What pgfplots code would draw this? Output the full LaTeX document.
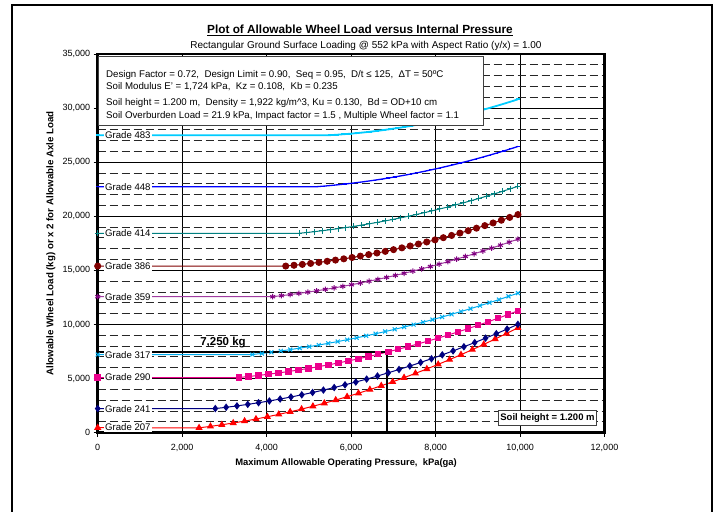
\documentclass[border=0pt]{standalone}
\usepackage{pgfplots}
\pgfplotsset{compat=1.18}
\usepackage{fontspec}
\setmainfont{Liberation Sans}
\definecolor{navyc}{RGB}{0,0,128}
\definecolor{purp}{RGB}{160,60,160}
\definecolor{purpm}{RGB}{128,0,128}
\definecolor{dred}{RGB}{128,0,0}
\definecolor{tealc}{RGB}{0,128,128}
\definecolor{lblue}{RGB}{0,204,255}
\begin{document}
\begin{tikzpicture}[x=1pt,y=1pt]
\useasboundingbox (0,0) rectangle (716,512);
\begin{axis}[
  at={(97.7pt,79.3pt)}, anchor=south west,
  width=506.8pt, height=378.7pt, scale only axis,
  xmin=0, xmax=12000, ymin=0, ymax=35000,
  xtick={0,2000,...,12000}, ytick={0,5000,...,35000},
  minor y tick num=4,
  xmajorgrids=true, ymajorgrids=true, yminorgrids=true,
  major grid style={black, line width=0.8pt},
  minor grid style={black!85, line width=1pt, dash pattern=on 8pt off 4pt},
  minor tick length=0pt,
  tick pos=left, tick align=outside, major tick length=4pt,
  tick style={black, line width=1pt},
  axis line style={line width=2.5pt},
  clip=false,
  ticklabel style={font=\fontsize{9}{10}\selectfont},
  xticklabel style={yshift=-4pt},
  scaled ticks=false,
  /pgf/number format/1000 sep={,},
  /pgf/number format/assume math mode=true,
  xlabel={Maximum Allowable Operating Pressure,\ \ kPa(ga)},
  ylabel={Allowable Wheel Load (kg) or x 2 for Allowable Axle Load},
  every axis x label/.style={at={(rel axis cs:0.49,0)}, anchor=center, yshift=-30.3pt, font=\bfseries\fontsize{9.4}{11}\selectfont},
  every axis y label/.style={at={(rel axis cs:0,0.5)}, anchor=center, xshift=-46.7pt, rotate=90, font=\bfseries\fontsize{9.7}{11}\selectfont},
]
% Grade 207
\addplot[red, line width=1pt, mark=triangle*, mark size=3.2pt] coordinates {
(0,460) (2400,450) (2670,584) (2939,733) (3209,895) (3478,1073) (3748,1265) (4018,1472) (4287,1693) (4557,1929) (4827,2179) (5096,2444) (5366,2724) (5636,3017) (5905,3326) (6175,3649) (6445,3986) (6714,4338) (6984,4705) (7254,5086) (7523,5481) (7793,5892) (8062,6316) (8332,6755) (8602,7209) (8871,7677) (9141,8160) (9411,8658) (9680,9170) (9950,9696)};
% Grade 241
\addplot[navyc, line width=1pt, mark=diamond*, mark size=3pt] coordinates {
(0,2230) (2785,2230) (3041,2347) (3297,2476) (3553,2617) (3809,2770) (4065,2935) (4320,3112) (4576,3300) (4832,3501) (5088,3714) (5344,3938) (5600,4174) (5856,4423) (6112,4683) (6368,4955) (6624,5239) (6879,5535) (7135,5843) (7391,6162) (7647,6494) (7903,6838) (8159,7193) (8415,7561) (8671,7940) (8927,8332) (9183,8735) (9438,9150) (9694,9577) (9950,10016)};
% Grade 290
\addplot[magenta, line width=1pt, mark=square*, mark size=2.7pt] coordinates {
(0,5100) (3339,5100) (3575,5192) (3811,5294) (4047,5405) (4283,5525) (4520,5656) (4756,5795) (4992,5944) (5228,6103) (5464,6271) (5700,6448) (5936,6635) (6172,6831) (6408,7037) (6644,7253) (6881,7478) (7117,7712) (7353,7956) (7589,8209) (7825,8472) (8061,8744) (8297,9026) (8533,9317) (8769,9618) (9005,9928) (9242,10248) (9478,10577) (9714,10915) (9950,11263)};
% Grade 317
\addplot[cyan, line width=1pt, mark=x, mark size=2.8pt] coordinates {
(0,7220) (3662,7220) (3887,7325) (4111,7437) (4336,7556) (4560,7682) (4785,7816) (5010,7958) (5234,8105) (5459,8261) (5683,8424) (5908,8594) (6133,8771) (6357,8955) (6582,9147) (6806,9347) (7031,9553) (7256,9767) (7480,9988) (7705,10216) (7929,10451) (8154,10694) (8379,10944) (8603,11201) (8828,11465) (9052,11737) (9277,12016) (9502,12302) (9726,12596) (9951,12896)};
% Grade 359
\addplot[purp, line width=1pt, mark=asterisk, mark size=2.8pt, mark options={purpm}] coordinates {
(0,12570) (4144,12570) (4351,12665) (4559,12766) (4766,12875) (4974,12991) (5181,13114) (5388,13244) (5596,13381) (5803,13526) (6011,13677) (6218,13835) (6425,14001) (6633,14173) (6840,14353) (7048,14539) (7255,14733) (7462,14934) (7670,15141) (7877,15356) (8085,15578) (8292,15807) (8499,16044) (8707,16287) (8914,16537) (9122,16795) (9329,17059) (9536,17331) (9744,17609) (9951,17894)};
% Grade 386
\addplot[dred, line width=1pt, mark=*, mark size=3pt] coordinates {
(0,15400) (4452,15400) (4648,15474) (4845,15555) (5041,15644) (5238,15739) (5434,15842) (5630,15951) (5827,16068) (6023,16192) (6220,16323) (6416,16461) (6612,16606) (6809,16758) (7005,16917) (7202,17084) (7398,17257) (7594,17438) (7791,17626) (7987,17821) (8184,18023) (8380,18232) (8576,18448) (8773,18671) (8969,18902) (9166,19139) (9362,19384) (9558,19636) (9755,19895) (9951,20161)};
% Grade 414
\addplot[tealc, line width=1pt, mark=+, mark size=3pt] coordinates {
(0,18430) (4767,18430) (4952,18503) (5137,18583) (5322,18669) (5507,18760) (5693,18858) (5878,18962) (6063,19071) (6248,19187) (6433,19309) (6618,19437) (6803,19571) (6988,19710) (7173,19857) (7358,20009) (7544,20167) (7729,20331) (7914,20501) (8099,20677) (8284,20859) (8469,21048) (8654,21242) (8839,21442) (9024,21649) (9209,21861) (9395,22080) (9580,22304) (9765,22535) (9950,22772)};
% Grade 448
\addplot[blue, line width=1.3pt, mark=-, mark size=2pt] coordinates {
(0,22730) (5169,22730) (5340,22784) (5511,22844) (5681,22910) (5852,22982) (6023,23059) (6194,23142) (6364,23231) (6535,23326) (6706,23427) (6877,23534) (7047,23646) (7218,23764) (7389,23888) (7560,24018) (7730,24154) (7901,24296) (8072,24443) (8243,24597) (8413,24756) (8584,24921) (8755,25091) (8926,25268) (9096,25450) (9267,25639) (9438,25833) (9609,26033) (9779,26238) (9950,26450)};
% Grade 483
\addplot[lblue, line width=1.8pt, mark=-, mark size=2pt] coordinates {
(0,27500) (5501,27500) (5660,27538) (5819,27583) (5978,27633) (6137,27689) (6296,27751) (6454,27819) (6613,27893) (6772,27973) (6931,28058) (7090,28150) (7249,28248) (7408,28351) (7567,28461) (7726,28576) (7885,28697) (8043,28825) (8202,28958) (8361,29097) (8520,29242) (8679,29393) (8838,29550) (8997,29712) (9156,29881) (9315,30055) (9474,30236) (9633,30422) (9792,30615) (9950,30813)};
% 7,250 kg marker lines
\addplot[black, line width=1.5pt, mark=none] coordinates {(0,7450) (6850,7450) (6850,0)};
% labels
\begin{scope}[every node/.style={anchor=west, fill=white, inner sep=1pt, font=\fontsize{9.6}{10}\selectfont}]
\node at (axis cs:150,480) {Grade 207};
\node at (axis cs:150,2230) {Grade 241};
\node at (axis cs:150,5100) {Grade 290};
\node at (axis cs:150,7200) {Grade 317};
\node at (axis cs:150,12570) {Grade 359};
\node at (axis cs:150,15400) {Grade 386};
\node at (axis cs:150,18430) {Grade 414};
\node at (axis cs:150,22730) {Grade 448};
\node at (axis cs:150,27500) {Grade 483};
\end{scope}
\node[font=\bfseries\fontsize{11.5}{13}\selectfont] at (axis cs:2967,8290) {7,250 kg};
\end{axis}
% outer frame
\draw[line width=2pt] (12,0) -- (12,507) -- (712,507) -- (712,0);
% titles
\node[font=\bfseries\fontsize{11.8}{13}\selectfont] at (360,482) {\underline{Plot of Allowable Wheel Load versus Internal Pressure}};
\node[font=\fontsize{10}{11}\selectfont] at (366,466) {Rectangular Ground Surface Loading @ 552 kPa with Aspect Ratio (y/x) = 1.00};
% parameter box
\draw[fill=white, draw=black!75, line width=1pt] (98,455) rectangle (483,386);
\begin{scope}[every node/.style={anchor=west, inner sep=0pt, font=\fontsize{9.7}{10}\selectfont}]
\node at (106,437) {Design Factor = 0.72,\ \ Design Limit = 0.90,\ \ Seq = 0.95,\ \ D/t ≤ 125,\ \ ΔT = 50ºC};
\node at (106,425.5) {Soil Modulus E' = 1,724 kPa,\ \ Kz = 0.108,\ \ Kb = 0.235};
\node at (106,409) {Soil height = 1.200 m,\ \ Density = 1,922 kg/m\textasciicircum3, Ku = 0.130,\ \ Bd = OD+10 cm};
\node at (106,396) {Soil Overburden Load = 21.9 kPa, Impact factor = 1.5 , Multiple Wheel factor = 1.1};
\end{scope}
\node[draw=black!75, fill=white, line width=1pt, inner sep=2pt, minimum height=15pt, font=\bfseries\fontsize{9.5}{10}\selectfont] at (547.5,93.5) {Soil height = 1.200 m};
\end{tikzpicture}
\end{document}
